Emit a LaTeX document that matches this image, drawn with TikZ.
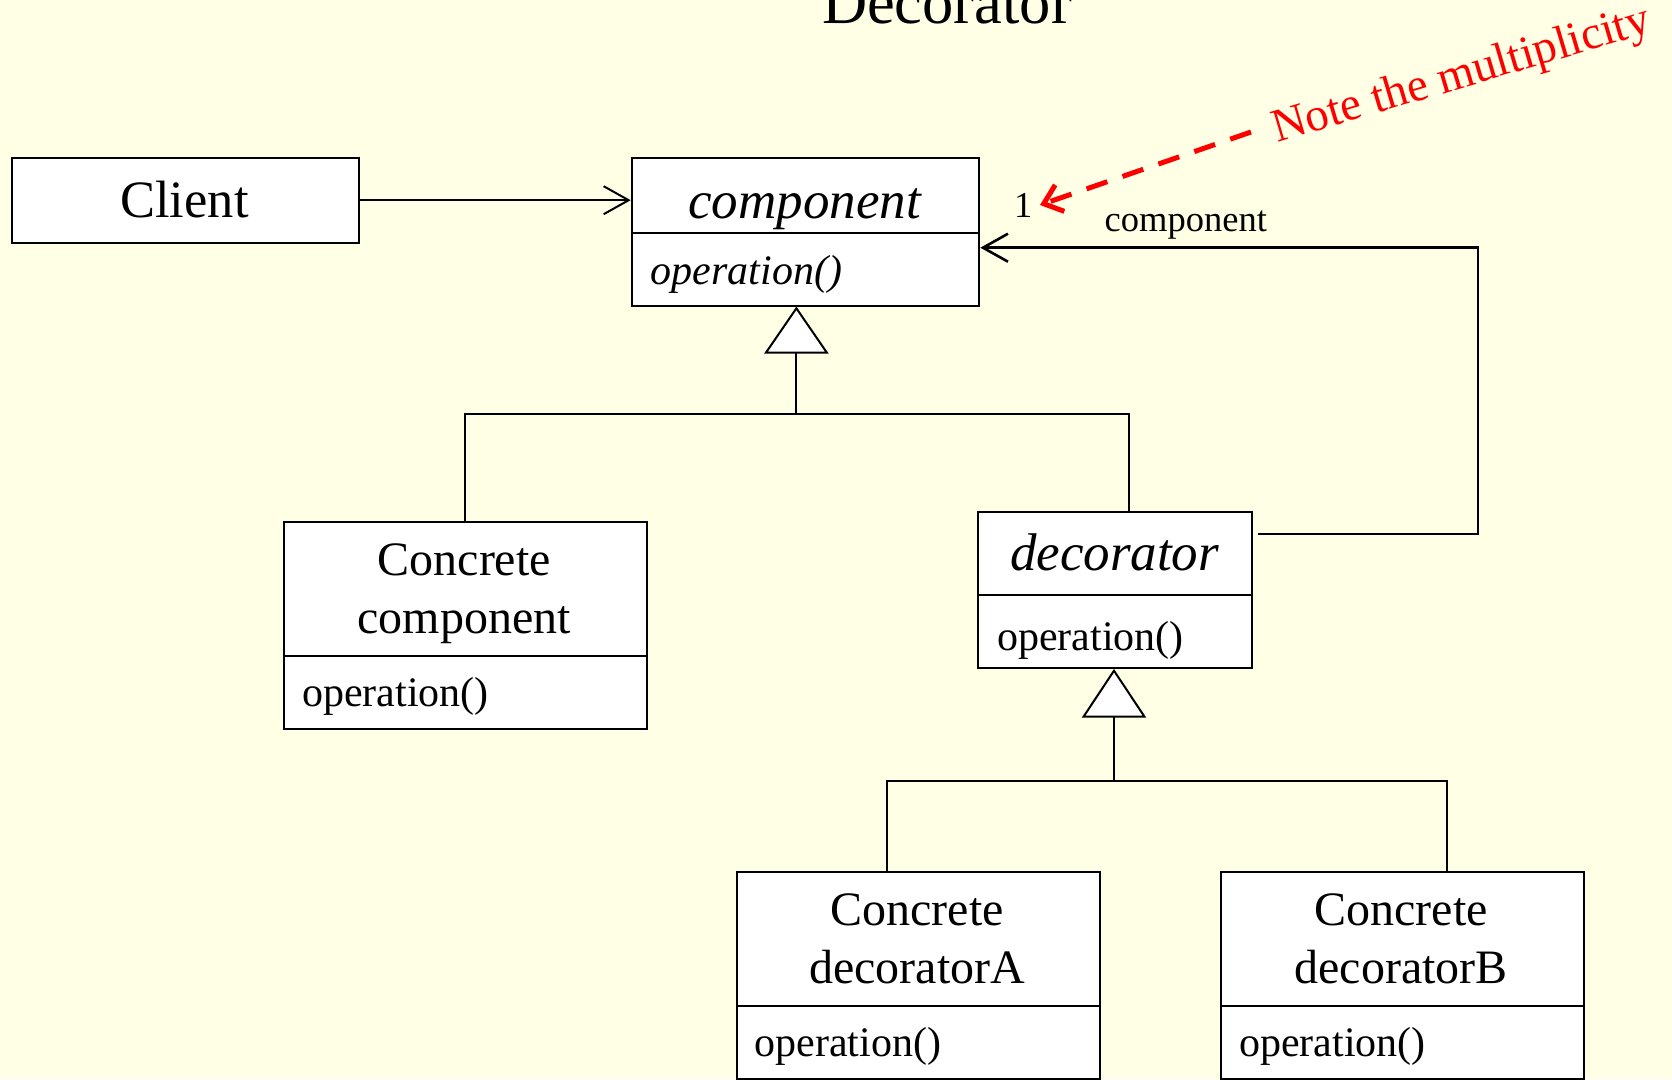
\documentclass[tikz,border=0pt]{standalone}
\usepackage{fontspec}
\setmainfont{Liberation Serif}
\usetikzlibrary{arrows.meta}
\definecolor{paper}{RGB}{255,255,230}
\definecolor{notered}{RGB}{255,0,0}
\begin{document}
\begin{tikzpicture}[x=1pt,y=-1pt,
  classbox/.style={draw=black, line width=2pt, fill=white, inner sep=0pt, anchor=north west},
  divider/.style={line width=2pt},
  wire/.style={line width=2pt},
  openhead/.style={-{Straight Barb[length=25pt,width=28pt]}},
  clsname/.style={font=\fontsize{48}{56}\selectfont, inner sep=0pt, anchor=base},
  absname/.style={font=\fontsize{53}{60}\selectfont\itshape, inner sep=0pt, anchor=base},
  optext/.style={font=\fontsize{42}{50}\selectfont, inner sep=0pt, anchor=base west},
  roletext/.style={font=\fontsize{36.5}{42}\selectfont, inner sep=0pt, anchor=base west},
  notetext/.style={font=\fontsize{47}{55}\selectfont, text=notered, inner sep=0pt, anchor=base west}
]
% page and background
\useasboundingbox (0,0) rectangle (1672,1079);
\fill[paper] (0,0) rectangle (1672,1079);

% title
\node[font=\fontsize{62.5}{70}\selectfont, inner sep=0pt, anchor=base] (title) at (947,23.3) {Decorator};

% Client
\node[classbox, minimum width=347.6pt, minimum height=85pt] (client) at (10.7,156.7) {};
\node[font=\fontsize{52.5}{60}\selectfont, inner sep=0pt, anchor=base] (clientT) at (184.5,217.3) {Client};

% abstract component
\node[classbox, minimum width=347.6pt, minimum height=148.3pt] (comp) at (630.7,156.7) {};
\draw[divider] (comp.west |- 0,232.7) -- (comp.east |- 0,232.7);
\node[absname] (compT) at (804.5,218.3) {component};
\node[optext, font=\fontsize{42}{50}\selectfont\itshape] (compOp) at (650.5,284) {operation()};

% concrete component
\node[classbox, minimum width=363.3pt, minimum height=207.3pt] (ccomp) at (282.7,521) {};
\draw[divider] (ccomp.west |- 0,655.7) -- (ccomp.east |- 0,655.7);
\node[clsname] (ccompT1) at (464.3,575) {Concrete};
\node[clsname] (ccompT2) at (464.3,633.3) {component};
\node[optext] (ccompOp) at (302,706.7) {operation()};

% abstract decorator
\node[classbox, minimum width=273.4pt, minimum height=156.6pt] (deco) at (977.3,510.7) {};
\draw[divider] (deco.west |- 0,595) -- (deco.east |- 0,595);
\node[absname] (decoT) at (1114.5,570) {decorator};
\node[optext] (decoOp) at (997,650) {operation()};

% concrete decorators
\node[classbox, minimum width=363.3pt, minimum height=207.5pt] (decA) at (735.5,870.5) {};
\draw[divider] (decA.west |- 0,1005.7) -- (decA.east |- 0,1005.7);
\node[clsname] (decAT1) at (917.2,925) {Concrete};
\node[clsname] (decAT2) at (917.2,983.3) {decoratorA};
\node[optext] (decAOp) at (754.5,1056.7) {operation()};

\node[classbox, minimum width=363pt, minimum height=207.5pt] (decB) at (1219.5,870.5) {};
\draw[divider] (decB.west |- 0,1005.7) -- (decB.east |- 0,1005.7);
\node[clsname] (decBT1) at (1401,925) {Concrete};
\node[clsname] (decBT2) at (1401,983.3) {decoratorB};
\node[optext] (decBOp) at (1239,1056.7) {operation()};

% Client uses component
\draw[wire, openhead] (client.east) -- (client.east -| comp.west);

% generalization: concrete component and decorator -> component
\coordinate (g1tip) at (796.4,308.3);
\coordinate (g1base) at (796.4,352.7);
\coordinate (g1bar) at (796.4,414);
\coordinate (decoIn) at (1129.4,510.7);
\draw[wire] (g1base) -- (g1bar);
\draw[wire] (ccomp.north) |- (g1bar) -| (decoIn);
\draw[wire, fill=white, line join=miter] (g1tip) -- ++(-30.5,44.4) -- ++(61,0) -- cycle;

% generalization: concrete decorators -> decorator
\coordinate (g2tip) at (1114,670.7);
\coordinate (g2base) at (1114,716.7);
\coordinate (g2bar) at (1114,780.7);
\coordinate (decAIn) at (887.2,870.5);
\coordinate (decBIn) at (1447,870.5);
\draw[wire] (g2base) -- (g2bar);
\draw[wire] (decAIn) |- (g2bar) -| (decBIn);
\draw[wire, fill=white, line join=miter] (g2tip) -- ++(-30.5,46) -- ++(61,0) -- cycle;

% aggregation: decorator holds one component
\coordinate (decoOut) at (1258,534);
\coordinate (assocCorner) at (1477.8,247.7);
\draw[line width=2.6pt, openhead] (decoOut) -| (assocCorner) -- (comp.east |- assocCorner);
\node[roletext] (mult) at (1014,217.7) {1};
\node[roletext] (role) at (1104.5,231.7) {component};

% annotation
\coordinate (noteStart) at (1251,132);
\coordinate (noteTip) at (1040,205);
\draw[notered, line width=5pt, dash pattern=on 22pt off 16pt,
      -{Straight Barb[length=17pt,width=28pt]}] (noteStart) -- (noteTip);
\node[notetext, rotate=16.5] (note) at (1277,143) {Note the multiplicity};
\end{tikzpicture}
\end{document}
